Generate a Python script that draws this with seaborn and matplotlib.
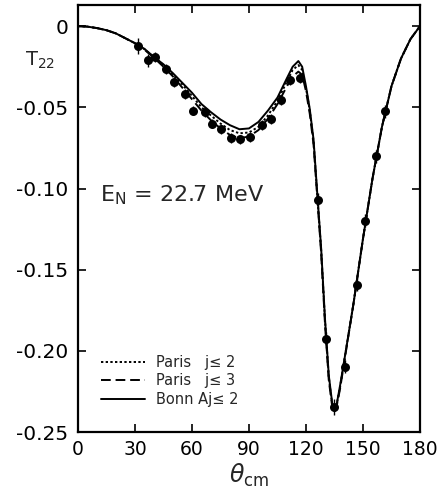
import numpy as np
import pandas as pd
import seaborn as sns
import matplotlib.pyplot as plt

# угол в с.ц.м. (градусы), по которому заданы кривые
theta = [0, 5, 10, 15, 20, 25, 30, 35, 40, 45, 50, 55, 60, 65, 70, 75, 80, 85,
         90, 95, 100, 105, 110, 113, 116, 118, 120, 122, 124, 126, 128, 130,
         132, 134, 135, 136, 138, 140, 145, 150, 155, 160, 165, 170, 175, 180]

bonn = [0.000, -0.0003, -0.0012, -0.0025, -0.0045, -0.0075, -0.0105, -0.014,
        -0.019, -0.0235, -0.029, -0.035, -0.041, -0.048, -0.053, -0.0575,
        -0.061, -0.0635, -0.063, -0.059, -0.052, -0.044, -0.032, -0.025,
        -0.0215, -0.025, -0.037, -0.051, -0.070, -0.104, -0.137, -0.180,
        -0.215, -0.234, -0.237, -0.234, -0.221, -0.207, -0.171, -0.131,
        -0.094, -0.062, -0.037, -0.020, -0.008, 0.000]

paris_j3 = [0.000, -0.0003, -0.0012, -0.0025, -0.0045, -0.0075, -0.0105, -0.0145,
            -0.0195, -0.025, -0.031, -0.038, -0.045, -0.052, -0.058, -0.063,
            -0.067, -0.069, -0.068, -0.064, -0.057, -0.048, -0.037, -0.031,
            -0.028, -0.030, -0.040, -0.054, -0.073, -0.106, -0.140, -0.183,
            -0.218, -0.236, -0.238, -0.235, -0.223, -0.208, -0.171, -0.131,
            -0.094, -0.062, -0.037, -0.020, -0.008, 0.000]

paris_j2 = [0.000, -0.0003, -0.0012, -0.0025, -0.0045, -0.0075, -0.0105, -0.0142,
            -0.0192, -0.024, -0.030, -0.036, -0.043, -0.050, -0.055, -0.060,
            -0.064, -0.066, -0.0655, -0.062, -0.055, -0.046, -0.034, -0.027,
            -0.024, -0.027, -0.038, -0.052, -0.071, -0.105, -0.138, -0.181,
            -0.216, -0.235, -0.237, -0.234, -0.222, -0.207, -0.171, -0.131,
            -0.094, -0.062, -0.037, -0.020, -0.008, 0.000]

# экспериментальные точки
theta_exp = [31.8, 36.6, 40.8, 46.1, 50.8, 56.1, 60.8, 66.6, 70.8, 75.5, 80.3,
             85.5, 90.8, 96.6, 101.8, 106.6, 111.8, 116.6, 126.1, 130.8, 135.0,
             140.3, 146.6, 151.3, 157.1, 161.8]
t22_exp = [-0.0123, -0.021, -0.019, -0.0265, -0.0346, -0.042, -0.052, -0.053,
           -0.060, -0.0636, -0.069, -0.0698, -0.0685, -0.061, -0.0574, -0.0457,
           -0.0333, -0.0321, -0.1068, -0.1926, -0.2346, -0.2099, -0.1593,
           -0.1198, -0.0802, -0.0525]
t22_err = [0.005, 0.004, 0.003, 0.003, 0.003, 0.003, 0.003, 0.003, 0.003, 0.003,
           0.003, 0.003, 0.003, 0.003, 0.003, 0.003, 0.003, 0.003, 0.004, 0.004,
           0.005, 0.004, 0.004, 0.004, 0.004, 0.004]

labels = ['Paris   j\u2264 2', 'Paris   j\u2264 3', 'Bonn Aj\u2264 2']

curves = pd.DataFrame({
    'theta': theta * 3,
    'T22': paris_j2 + paris_j3 + bonn,
    'model': [labels[0]] * len(theta) + [labels[1]] * len(theta) + [labels[2]] * len(theta),
})

sns.set_style("ticks")
plt.rcParams['font.family'] = ['DejaVu Sans']

fig = plt.figure(figsize=(4.43, 5.03), dpi=100)
ax = fig.add_axes([0.176, 0.141, 0.772, 0.849])

sns.lineplot(data=curves, x='theta', y='T22', hue='model', style='model',
             palette=['black', 'black', 'black'],
             dashes={labels[0]: (1.2, 1.2), labels[1]: (5, 2.5), labels[2]: ''},
             linewidth=1.4, ax=ax, legend=True)

ax.errorbar(theta_exp, t22_exp, yerr=t22_err, fmt='none', ecolor='black',
            elinewidth=1.0, capsize=0)
sns.scatterplot(x=theta_exp, y=t22_exp, color='black', s=42, edgecolor='black',
                linewidth=0, ax=ax, zorder=5)

ax.set_xlim(0, 180)
ax.set_ylim(-0.25, 0.013)
ax.set_xticks([0, 30, 60, 90, 120, 150, 180])
ax.set_xticklabels(['0', '30', '60', '90', '120', '150', '180'])
ax.set_yticks([0, -0.05, -0.10, -0.15, -0.20, -0.25])
ax.set_yticklabels(['0', '-0.05', '-0.10', '-0.15', '-0.20', '-0.25'])
ax.tick_params(direction='in', length=6, width=1.2, top=True, right=True,
               labelsize=13.5, pad=6, color='black', labelcolor='black')
ax.tick_params(axis='y', labelsize=14.5, pad=7)
for sp in ax.spines.values():
    sp.set_linewidth(1.6)
    sp.set_color('black')

ax.set_xlabel(r'$\theta_{\rm cm}$', fontsize=17, labelpad=2)
ax.set_ylabel('')
fig.text(25 / 443, 1 - 60 / 503, r'T$_{22}$', fontsize=14, va='center', ha='left')

ax.text(0.065, 0.555, r'E$_{\rm N}$ = 22.7 MeV', transform=ax.transAxes,
        fontsize=16, va='center', ha='left')

leg = ax.legend(loc='lower left', bbox_to_anchor=(0.05, 0.045), frameon=False,
                fontsize=10.5, handlelength=3.0, handletextpad=0.8,
                labelspacing=0.25, borderaxespad=0)
for line in leg.get_lines():
    line.set_linewidth(1.4)

fig.savefig('out.png', dpi=100)
